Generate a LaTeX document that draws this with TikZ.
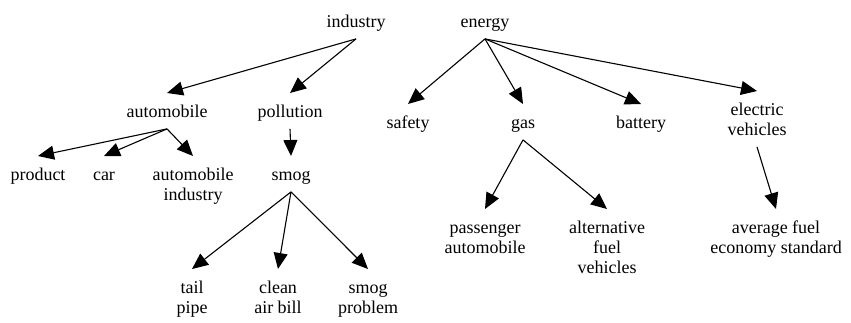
\documentclass[tikz,border=0pt]{standalone}
\usepackage{fontspec}
\setmainfont{Liberation Serif}
\usetikzlibrary{arrows.meta}

\tikzset{
	concept/.style={anchor=north, align=center, inner xsep=2pt, inner ysep=1pt,
		font=\fontsize{18}{20}\selectfont,
		execute at begin node={\rule{0pt}{#1}},
		execute at end node={\rule[-10.5pt]{0pt}{10.5pt}}},
	concept/.default=23pt,
	link/.style={-{Triangle[length=16pt,width=14pt]}, line width=1.1pt}
}

\begin{document}
\begin{tikzpicture}[x=1pt,y=-1pt]
			
			\useasboundingbox (0,0) rectangle (851,322);
			
			% top concepts
			\node[concept] (industry) at (356,3) {industry};
			\node[concept] (energy) at (485,3) {energy};
			
			% second level
			\node[concept] (auto) at (167,93) {automobile};
			\node[concept] (pollution) at (290,93) {pollution};
			\node[concept] (safety) at (408,104) {safety};
			\node[concept] (gas) at (523,104) {gas};
			\node[concept] (battery) at (641,104) {battery};
			\node[concept=43pt] (electric) at (757,91) {electric\\vehicles};
			
			% third level
			\node[concept] (product) at (38,156) {product};
			\node[concept] (car) at (104,156) {car};
			\node[concept=43pt] (autoind) at (193,156) {automobile\\industry};
			\node[concept] (smog) at (291,156) {smog};
			\node[concept=43pt] (passenger) at (485,209) {passenger\\automobile};
			\node[concept=63pt] (altfuel) at (607,209) {alternative\\fuel\\vehicles};
			\node[concept=43pt] (average) at (776,209) {average fuel\\economy standard};
			
			% bottom level
			\node[concept=43pt] (tail) at (192,269) {tail\\pipe};
			\node[concept=43pt] (clean) at (278,269) {clean\\air bill};
			\node[concept=43pt] (smogprob) at (368,269) {smog\\problem};
			
			% links
			\draw[link] (industry.south) -- (auto.north);
			\draw[link] (industry.south) -- (pollution.north);
			\draw[link] (energy.south) -- (safety.north);
			\draw[link] (energy.south) -- (gas.north);
			\draw[link] (energy.south) -- (battery.north);
			\draw[link] (energy.south) -- (electric.north);
			\draw[link] (auto.south) -- (product.north);
			\draw[link] (auto.south) -- (car.north);
			\draw[link] (auto.south) -- (autoind.north);
			\draw[link] (pollution.south) -- (smog.north);
			\draw[link] (smog.south) -- (tail.north);
			\draw[link] (smog.south) -- (clean.north);
			\draw[link] (smog.south) -- (smogprob.north);
			\draw[link] (gas.south) -- (passenger.north);
			\draw[link] (gas.south) -- (altfuel.north);
			\draw[link] (electric.south) -- (average.north);
			
		\end{tikzpicture}
\end{document}
